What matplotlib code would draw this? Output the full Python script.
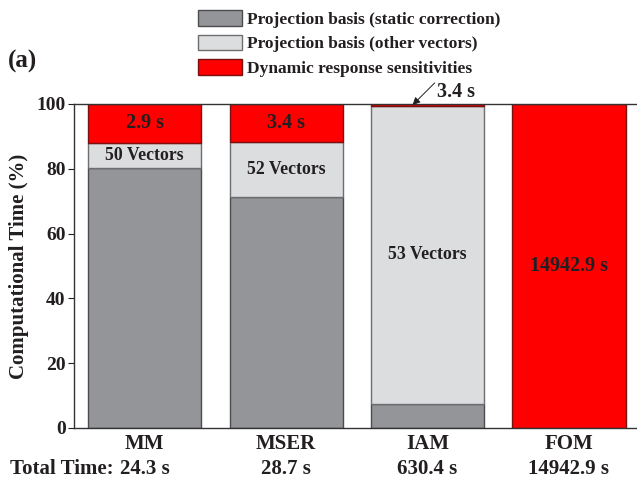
import matplotlib
matplotlib.use("Agg")
import matplotlib.pyplot as plt
import matplotlib.transforms as mtransforms
from matplotlib.patches import Patch
import numpy as np

plt.rcParams['font.family'] = ['Liberation Serif', 'DejaVu Serif']
plt.rcParams['font.weight'] = 'bold'

# Data
methods = ["MM", "MSER", "IAM", "FOM"]
total_time_s = [24.3, 28.7, 630.4, 14942.9]          # total computational time (s)
dynamic_time_s = [2.9, 3.4, 3.4, 14942.9]            # dynamic response sensitivities (s)
static_share_pct = [80.2, 71.2, 7.4, 0.0]            # projection basis, static correction (%)
vector_counts = [50, 52, 53, None]                   # size of projection basis

series_labels = ["Projection basis (static correction)",
                 "Projection basis (other vectors)",
                 "Dynamic response sensitivities"]

total = np.array(total_time_s)
dyn_pct = np.array(dynamic_time_s) / total * 100.0
static_pct = np.array(static_share_pct)
other_pct = 100.0 - static_pct - dyn_pct

c_static = "#939598"
c_other = "#dcdddf"
c_dyn = "#ff0000"
txt = "#231f20"

fig = plt.figure(figsize=(6.37, 4.82), dpi=100)
ax = fig.add_axes([74/637, 1-428/482, (639.7-74)/637, (428-104)/482])

x = np.arange(1, len(methods) + 1)
w = 0.8
ax.bar(x, static_pct, w, color=c_static, edgecolor="#4d4d4f", linewidth=1.0)
ax.bar(x, other_pct, w, bottom=static_pct, color=c_other, edgecolor="#6d6e70", linewidth=1.0)
ax.bar(x, dyn_pct, w, bottom=static_pct + other_pct, color=c_dyn, edgecolor="#7a1010", linewidth=1.0)

# segment labels
for i in range(len(methods)):
    n = vector_counts[i]
    if n is not None:
        yc = static_pct[i] + other_pct[i] / 2
        ax.text(x[i], yc, f"{n} Vectors", ha="center", va="center",
                fontsize=12.8, fontweight="bold", color=txt)
    if dyn_pct[i] > 5:
        yc = static_pct[i] + other_pct[i] + dyn_pct[i] / 2
        ax.text(x[i], yc, f"{dynamic_time_s[i]} s", ha="center", va="center",
                fontsize=14.5, fontweight="bold", color=txt)

# small dynamic share of IAM pointed out with an arrow
i_iam = methods.index("IAM")
ax.annotate("", xy=(x[i_iam] - 0.106, 99.7), xytext=(x[i_iam] + 0.05, 106.5),
            arrowprops=dict(arrowstyle="-|>", color=txt, lw=0.7, mutation_scale=11,
                            shrinkA=0, shrinkB=0), annotation_clip=False)
ax.text(x[i_iam] + 0.07, 103.8, f"{dynamic_time_s[i_iam]} s", ha="left", va="center",
        fontsize=14.5, fontweight="bold", color=txt, clip_on=False)

ax.set_xlim(0.5, 4.5)
ax.set_ylim(0, 100)
ax.set_yticks([0, 20, 40, 60, 80, 100])
ax.set_xticks(x)
ax.set_xticklabels(methods, fontsize=15, fontweight="bold", color=txt)
ax.tick_params(axis="x", length=0, pad=4)
ax.tick_params(axis="y", labelsize=14, colors=txt, direction="out", length=4,
               right=True, pad=2)
for lab in ax.get_yticklabels():
    lab.set_fontweight("bold")
ax.set_ylabel("Computational Time (%)", fontsize=15, fontweight="bold", color=txt, labelpad=5)
for sp in ax.spines.values():
    sp.set_color("#333333")
    sp.set_linewidth(1.0)

# total time row
trans = mtransforms.blended_transform_factory(ax.transData, fig.transFigure)
y_row = 1 - 469/482
fig.text(10/637, y_row, "Total Time:", ha="left", va="center",
         fontsize=15, fontweight="bold", color=txt)
for i in range(len(methods)):
    ax.text(x[i], y_row, f"{total_time_s[i]} s", transform=trans, ha="center",
            va="center", fontsize=15, fontweight="bold", color=txt, clip_on=False)

fig.text(8/637, 1 - 61/482, "(a)", ha="left", va="center", fontsize=18,
         fontweight="bold", color=txt)

handles = [Patch(facecolor=c_static, edgecolor="#4d4d4f"),
           Patch(facecolor=c_other, edgecolor="#6d6e70"),
           Patch(facecolor=c_dyn, edgecolor="#7a1010")]
leg = fig.legend(handles, series_labels, loc="upper left",
                 bbox_to_anchor=(198/637, 1 - 10/482), frameon=False,
                 prop=dict(family="Liberation Serif", weight="bold", size=12.5),
                 handlelength=2.55, handleheight=1.0, labelspacing=0.4,
                 handletextpad=0.3, borderpad=0, borderaxespad=0)
for t in leg.get_texts():
    t.set_color(txt)

fig.savefig("out.png", dpi=100)
